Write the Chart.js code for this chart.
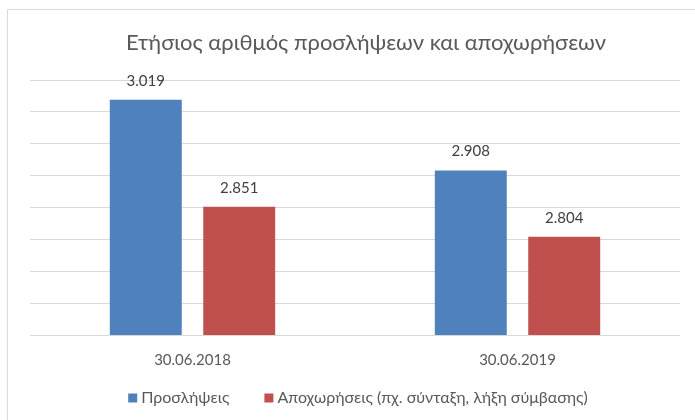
<!DOCTYPE html>
<html>
<head>
<meta charset="utf-8">
<script src="https://cdn.jsdelivr.net/npm/chart.js@4"></script>
<style>
  html, body { margin: 0; padding: 0; background: #fff; }
  #wrap { width: 695px; height: 420px; position: relative; }
</style>
</head>
<body>
<div id="wrap"><canvas id="chart" width="695" height="420"></canvas></div>
<script>
const categories = ["30.06.2018", "30.06.2019"];
const hires = [3019, 2908];
const departures = [2851, 2804];
const seriesNames = ["Προσλήψεις", "Αποχωρήσεις (πχ. σύνταξη, λήξη σύμβασης)"];
const titleText = "Ετήσιος αριθμός προσλήψεων και αποχωρήσεων";

const FONT = "Lato, 'Noto Sans', sans-serif";

function formatGreek(n) {
  return String(n).replace(/\B(?=(\d{3})+(?!\d))/g, ".");
}

// value labels above each bar
const valueLabels = {
  id: "valueLabels",
  afterDatasetsDraw(chart) {
    const ctx = chart.ctx;
    ctx.save();
    ctx.font = "15px " + FONT;
    ctx.fillStyle = "#404040";
    ctx.textAlign = "center";
    ctx.textBaseline = "middle";
    chart.data.datasets.forEach((ds, i) => {
      chart.getDatasetMeta(i).data.forEach((bar, j) => {
        ctx.fillText(formatGreek(ds.data[j]), bar.x, bar.y - 19);
      });
    });
    ctx.restore();
  },
};

// frame, title and legend, placed like the office chart
const decorations = {
  id: "decorations",
  beforeDraw(chart) {
    const ctx = chart.ctx;
    ctx.save();
    ctx.strokeStyle = "#d9d9d9";
    ctx.lineWidth = 1;
    ctx.strokeRect(7.5, 9.5, 800, 500);
    ctx.restore();
  },
  afterDraw(chart) {
    const ctx = chart.ctx;
    ctx.save();
    ctx.font = "22px " + FONT;
    ctx.fillStyle = "#595959";
    ctx.textAlign = "center";
    ctx.textBaseline = "middle";
    ctx.fillText(titleText, 366, 43);

    // legend
    ctx.font = "16px " + FONT;
    ctx.textAlign = "left";
    const box = 9, gapText = 4, gapItem = 35;
    const items = chart.data.datasets.map((ds) => ({
      text: ds.label,
      color: ds.backgroundColor,
      w: box + gapText + ctx.measureText(ds.label).width,
    }));
    const total = items.reduce((s, it) => s + it.w, 0) + gapItem * (items.length - 1);
    let x = 358 - total / 2;
    const y = 398;
    items.forEach((it) => {
      ctx.fillStyle = it.color;
      ctx.fillRect(x, y - box / 2, box, box);
      ctx.fillStyle = "#595959";
      ctx.fillText(it.text, x + box + gapText, y);
      x += it.w + gapItem;
    });
    ctx.restore();
  },
};

const chartData = {
  labels: categories,
  datasets: [
    {
      label: seriesNames[0],
      backgroundColor: "#4F81BD",
      data: hires,
    },
    {
      label: seriesNames[1],
      backgroundColor: "#C0504D",
      data: departures,
    },
  ],
};

const config = {
  type: "bar",
  data: chartData,
  options: {
    responsive: false,
    animation: false,
    categoryPercentage: 0.575,
    barPercentage: 0.77,
    layout: { padding: { left: 30, right: 15, top: 80, bottom: 35 } },
    plugins: {
      title: { display: false },
      legend: { display: false },
      tooltip: { enabled: false },
    },
    scales: {
      x: {
        grid: { display: false, drawTicks: false },
        border: { display: false },
        ticks: { color: "#595959", font: { family: FONT, size: 15 }, padding: 16 },
      },
      y: {
        min: 2650,
        max: 3050,
        ticks: { display: false, stepSize: 50 },
        grid: { color: "#d9d9d9", drawTicks: false },
        border: { display: false },
      },
    },
  },
  plugins: [decorations, valueLabels],
};

new Chart(document.getElementById("chart"), config);
</script>
</body>
</html>
